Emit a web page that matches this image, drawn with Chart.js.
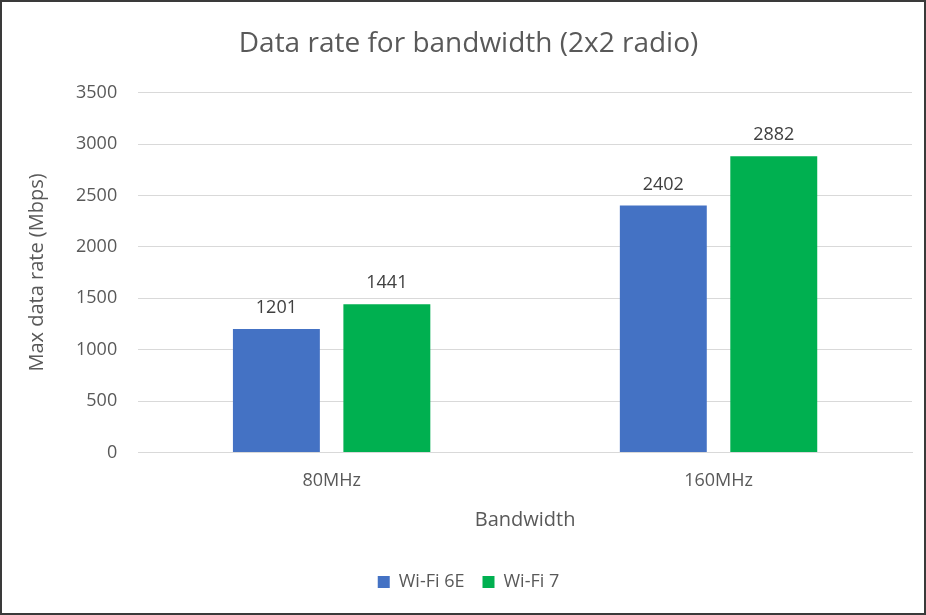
<!DOCTYPE html>
<html>
<head>
<meta charset="utf-8">
<script src="https://cdn.jsdelivr.net/npm/chart.js@4/dist/chart.umd.min.js"></script>
<style>
  html,body{margin:0;padding:0;background:#fff;}
  #box{width:926px;height:615px;box-sizing:border-box;border:2px solid #3a3a3a;position:relative;}
  #chart{display:block;}
</style>
</head>
<body>
<div id="box"><canvas id="chart" width="922" height="611"></canvas></div>
<script>
// data
const bandwidths = ["80MHz", "160MHz"];
const wifi6e = [1201, 2402];
const wifi7 = [1441, 2882];
const seriesNames = ["Wi-Fi 6E", "Wi-Fi 7"];

const fontFam = "'Open Sans', 'Liberation Sans', sans-serif";
const grey = "#595959";

// values above the bars
const barLabels = {
  id: "barLabels",
  afterDatasetsDraw(chart) {
    const ctx = chart.ctx;
    ctx.save();
    ctx.font = "18px " + fontFam;
    ctx.fillStyle = "#404040";
    ctx.textAlign = "center";
    ctx.textBaseline = "bottom";
    chart.data.datasets.forEach((ds, i) => {
      chart.getDatasetMeta(i).data.forEach((bar, j) => {
        ctx.fillText(ds.data[j], bar.x, bar.y - 12);
      });
    });
    ctx.restore();
  }
};

new Chart(document.getElementById("chart"), {
  type: "bar",
  data: {
    labels: bandwidths,
    datasets: [
      { label: seriesNames[0], data: wifi6e, backgroundColor: "#4472C4" },
      { label: seriesNames[1], data: wifi7, backgroundColor: "#00B050" }
    ]
  },
  options: {
    responsive: false,
    animation: false,
    categoryPercentage: 0.571,
    barPercentage: 0.787,
    layout: { padding: { left: 23, right: 12, top: 6, bottom: 12 } },
    plugins: {
      title: {
        display: true,
        text: "Data rate for bandwidth (2x2 radio)",
        color: grey,
        font: { family: fontFam, size: 28, weight: "normal" },
        padding: { top: 19, bottom: 32 }
      },
      legend: {
        position: "bottom",
        labels: {
          color: grey,
          font: { family: fontFam, size: 18 },
          boxWidth: 12,
          boxHeight: 12,
          padding: 18
        }
      },
      tooltip: { enabled: false }
    },
    scales: {
      x: {
        grid: { display: false },
        border: { color: "#d9d9d9" },
        ticks: { color: grey, font: { family: fontFam, size: 18 }, padding: 10 },
        title: {
          display: true, text: "Bandwidth", color: grey,
          font: { family: fontFam, size: 20 }, padding: { top: 6, bottom: 23 }
        }
      },
      y: {
        min: 0, max: 3500,
        ticks: {
          stepSize: 500, color: grey, font: { family: fontFam, size: 18 }, padding: 21,
          callback: v => String(v)
        },
        grid: { color: "#d9d9d9", lineWidth: 1, drawTicks: false },
        border: { display: false },
        title: {
          display: true, text: "Max data rate (Mbps)", color: grey,
          font: { family: fontFam, size: 20 }, padding: { top: 0, bottom: 6 }
        }
      }
    }
  },
  plugins: [barLabels]
});
</script>
</body>
</html>
